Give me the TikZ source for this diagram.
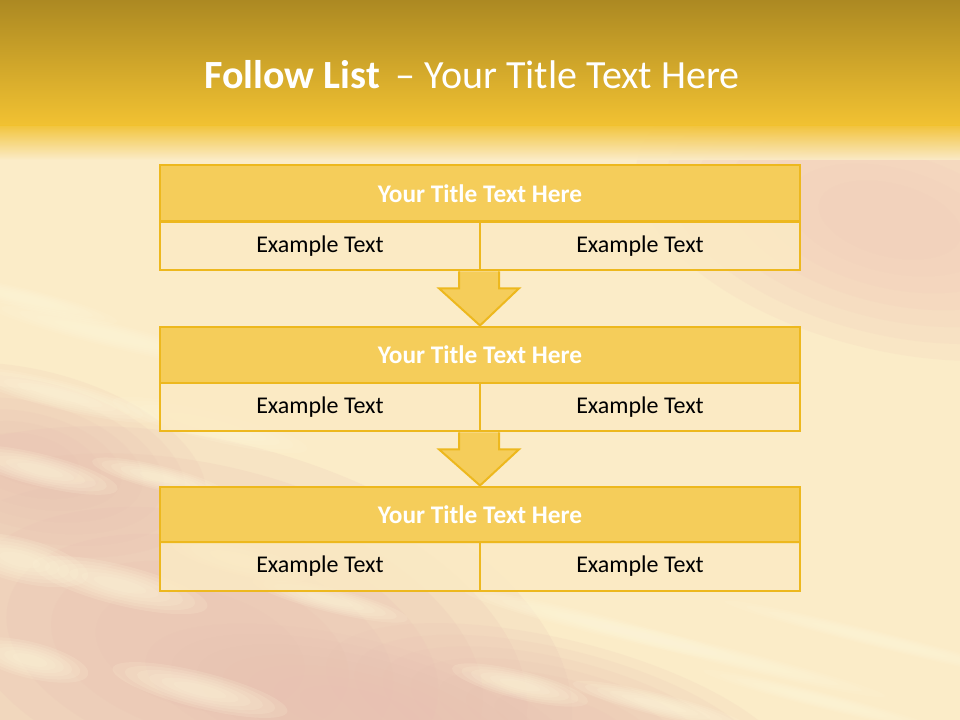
\documentclass[tikz,border=0pt]{standalone}
\usepackage{fontspec}
\setmainfont{Carlito}
\usetikzlibrary{calc}
\definecolor{goldfill}{RGB}{245,205,90}
\definecolor{goldline}{RGB}{237,184,30}
\definecolor{cellfill}{RGB}{251,234,196}
\definecolor{bandtop}{RGB}{172,137,34}
\definecolor{bandbot}{RGB}{242,194,50}
\definecolor{bgcream}{RGB}{251,236,200}
\definecolor{pinkc}{RGB}{232,192,178}
\definecolor{pinktr}{RGB}{242,202,186}
\definecolor{streakc}{RGB}{255,247,218}
\begin{document}
\begin{tikzpicture}[x=0.75pt,y=-0.75pt,
  titlebox/.style={draw=goldline,fill=goldfill,line width=1.5pt,minimum width=480pt,minimum height=42pt,inner sep=0pt,text=white,font=\fontsize{19}{22}\selectfont\bfseries},
  cellbox/.style={draw=goldline,fill=cellfill,fill opacity=0.85,text opacity=1,line width=1.5pt,minimum width=240pt,minimum height=36.5pt,inner sep=0pt,text=black,font=\fontsize{18}{21}\selectfont},
  downarrow/.style={draw=goldline,fill=goldfill,line width=1.5pt,line join=miter}]
\useasboundingbox (0,0) rectangle (960,720);
% background
\fill[bgcream] (0,120) rectangle (960,720);
\begin{scope}
\clip (0,120) rectangle (960,720);
\foreach \cx/\cy/\rx/\ry/\col/\op in {890/220/260/130/pinktr/0.16, 200/650/380/210/pinkc/0.18, 30/460/180/90/pinkc/0.15, 560/720/240/80/pinkc/0.14, 360/710/220/70/pinkc/0.14}
  \foreach \k in {1,...,7}
    \fill[\col,opacity=\op,rotate around={-14:(\cx,\cy)}] (\cx,\cy) ellipse ({\rx*(1.12-0.12*\k)} and {\ry*(1.12-0.12*\k)});
\foreach \cx/\cy/\rx/\ry in {30/300/90/10, 110/335/130/12, 60/395/100/14, 210/425/100/15, 40/470/80/16, 160/478/70/12, 20/560/70/22, 120/585/90/20, 240/560/70/15, 330/600/80/12, 30/660/60/18, 200/690/90/18, 600/625/140/10, 720/655/170/9, 520/685/70/14, 660/705/90/11, 880/640/160/8, 820/700/120/8}
  \foreach \k in {1,...,6}
    \fill[streakc,opacity=0.16,rotate around={-14:(\cx,\cy)}] (\cx,\cy) ellipse ({\rx*(1.14-0.14*\k)} and {\ry*(1.14-0.14*\k)});
\end{scope}
\shade[top color=bandtop,bottom color=bandbot] (0,0) rectangle (960,126);
\shade[top color=bandbot,bottom color=bgcream,opacity=0.9] (0,126) rectangle (960,160);
\node[text=white,font=\fontsize{30}{34}\selectfont] (title) at (472,75) {\textbf{Follow List} \,– Your Title Text Here};
% blocks
\node[titlebox] (t1) at (480,193.5) {Your Title Text Here};
\node[cellbox] (l1) at (320,246) {Example Text};
\node[cellbox] (r1) at (640,246) {Example Text};
\node[titlebox] (t2) at (480,354.5) {Your Title Text Here};
\node[cellbox] (l2) at (320,407) {Example Text};
\node[cellbox] (r2) at (640,407) {Example Text};
\node[titlebox] (t3) at (480,514.5) {Your Title Text Here};
\node[cellbox] (l3) at (320,566.5) {Example Text};
\node[cellbox] (r3) at (640,566.5) {Example Text};
% arrows
\draw[downarrow] ($(r1.south west)+(-20,0)$) -- ++(0,17) -- ++(-20,0) -- (t2.north) -- ($(r1.south west)+(40,17)$) -- ++(-20,0) -- ($(r1.south west)+(20,0)$);
\draw[downarrow] ($(r2.south west)+(-20,0)$) -- ++(0,17) -- ++(-20,0) -- (t3.north) -- ($(r2.south west)+(40,17)$) -- ++(-20,0) -- ($(r2.south west)+(20,0)$);
\end{tikzpicture}
\end{document}
